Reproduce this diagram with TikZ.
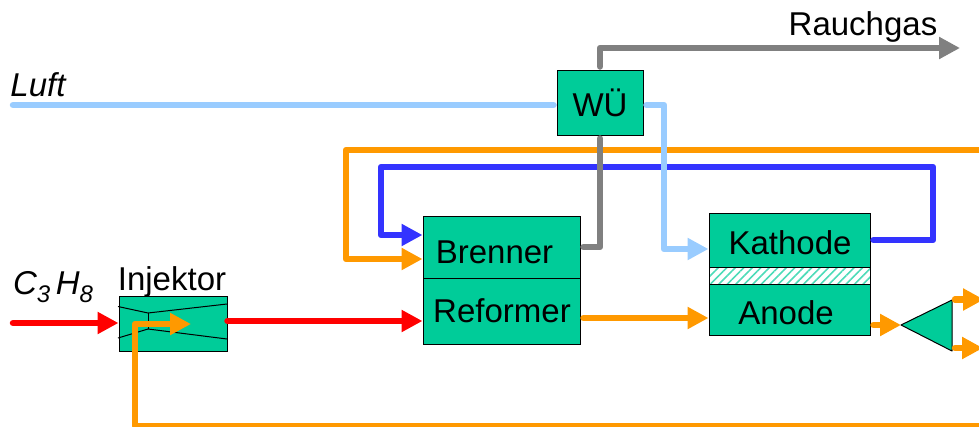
\documentclass[tikz,border=0pt]{standalone}
\usepackage{fontspec}
\setmainfont{Liberation Sans}
\usetikzlibrary{arrows.meta,patterns.meta}
\definecolor{boxgreen}{RGB}{0,204,153}
\definecolor{luftblue}{RGB}{153,204,255}
\definecolor{kreisblue}{RGB}{51,51,255}
\definecolor{gasorange}{RGB}{255,153,0}
\definecolor{rauchgray}{RGB}{128,128,128}
\tikzset{
    stream/.style={line width=6.5pt, line join=round, line cap=round},
    tipped/.style={stream, -{Triangle[length=21pt,width=21pt]}},
    anlage/.style={draw=black, line width=1pt, fill=boxgreen, inner sep=0pt},
    beschriftung/.style={inner sep=0pt, font=\fontsize{33}{36}\selectfont},
}
\begin{document}
\begin{tikzpicture}[x=1pt, y=-1pt]
    \useasboundingbox (0,0) rectangle (979,426);

    % Free ends
    \coordinate (luftin) at (13,105);
    \coordinate (gasin) at (13,323);
    \coordinate (rauchout) at (960,48);
    \coordinate (rueckoben) at (985,150);
    \coordinate (rueckunten) at (985,426);
    \coordinate (splitoben) at (984,299.5);
    \coordinate (splitunten) at (983,348);

    % Components
    \node[anlage, minimum width=157pt, minimum height=62pt] (brenner) at (501.5,247) {};
    \node[anlage, minimum width=157pt, minimum height=66pt] (reformer) at (501.5,311) {};
    \node[anlage, minimum width=86pt, minimum height=65pt] (wue) at (600,102.5) {};
    \node[anlage, minimum width=161pt, minimum height=54pt] (kathode) at (789.5,240) {};
    \node[draw=black, line width=1pt, inner sep=0pt, minimum width=161pt, minimum height=17pt,
        pattern={Lines[angle=45, distance=6pt, line width=1.6pt]}, pattern color=boxgreen!70] (membran) at (789.5,275.5) {};
    \node[anlage, minimum width=161pt, minimum height=51pt] (anode) at (789.5,309.5) {};
    \node[anlage, minimum width=108pt, minimum height=55pt] (injektor) at (173,323.5) {};
    \coordinate (splitspitze) at (901,325);
    \coordinate (splitrechts) at (952,325);
    \draw[anlage, line join=round] (splitspitze) -- (952,300) -- (952,351) -- cycle;

    % Nozzle inside the injector
    \draw[line width=1pt] (118,306.5) -- (148,313) -- (227,304);
    \draw[line width=1pt] (118,338) -- (148,329) -- (227,339);
    \draw[line width=1pt] (148,313) -- (148,329);

    % Streams
    \draw[tipped, gasorange] (rueckoben) -- (346,150) -- (346,259) -- (brenner.west |- 0,259);
    \draw[tipped, kreisblue] ([xshift=3pt]kathode.east) -- (933,240) -- (933,167) -- (381,167) -- (381,235) -- (brenner.west |- 0,235);
    \draw[tipped, rauchgray] ([yshift=3pt]wue.north) -- (wue.north |- rauchout) -- (rauchout);
    \draw[stream, rauchgray] ([xshift=3pt]brenner.east) -- (wue.south |- brenner.east) -- ([yshift=-3pt]wue.south);
    \draw[stream, luftblue] (luftin) -- ([xshift=-3pt]wue.west |- luftin);
    \draw[tipped, luftblue] ([xshift=3pt]wue.east |- luftin) -- (664,105) -- (664,249) -- (kathode.west |- 0,249);
    \draw[tipped, red] (gasin) -- (gasin -| injektor.west);
    \draw[tipped, red] ([yshift=2.5pt]injektor.east) -- ([yshift=2.5pt]injektor.east -| reformer.west);
    \draw[tipped, gasorange] ([xshift=3pt,yshift=-7pt]reformer.east) -- ([yshift=-7pt]reformer.east -| anode.west);
    \draw[tipped, gasorange] ([xshift=3pt]anode.east |- splitspitze) -- (splitspitze);
    \draw[tipped, gasorange] ([xshift=3pt]splitrechts |- splitoben) -- (splitoben);
    \draw[tipped, gasorange] ([xshift=3pt]splitrechts |- splitunten) -- (splitunten);
    \draw[tipped, gasorange] (rueckunten) -- (135,426) -- (135,324) -- (191,324);

    % Labels
    \node[beschriftung] (brennertext) at (494.5,252) {Brenner};
    \node[beschriftung] (reformertext) at (502,311) {Reformer};
    \node[beschriftung] (wuetext) at (600,103) {WÜ};
    \node[beschriftung] (kathodetext) at (790,243) {Kathode};
    \node[beschriftung] (anodetext) at (786,313) {Anode};
    \node[beschriftung] (injektortext) at (172,282) {Injektor};
    \node[beschriftung] (rauchtext) at (863,27) {Rauchgas};
    \node[beschriftung, font=\fontsize{33}{36}\selectfont\itshape] (lufttext) at (38,85) {Luft};
    \node[beschriftung, font=\fontsize{33}{36}\selectfont\itshape] (gastext) at (53,287) {C\raisebox{-8pt}{\fontsize{24}{26}\selectfont 3}\,H\raisebox{-8pt}{\fontsize{24}{26}\selectfont 8}};
\end{tikzpicture}
\end{document}
